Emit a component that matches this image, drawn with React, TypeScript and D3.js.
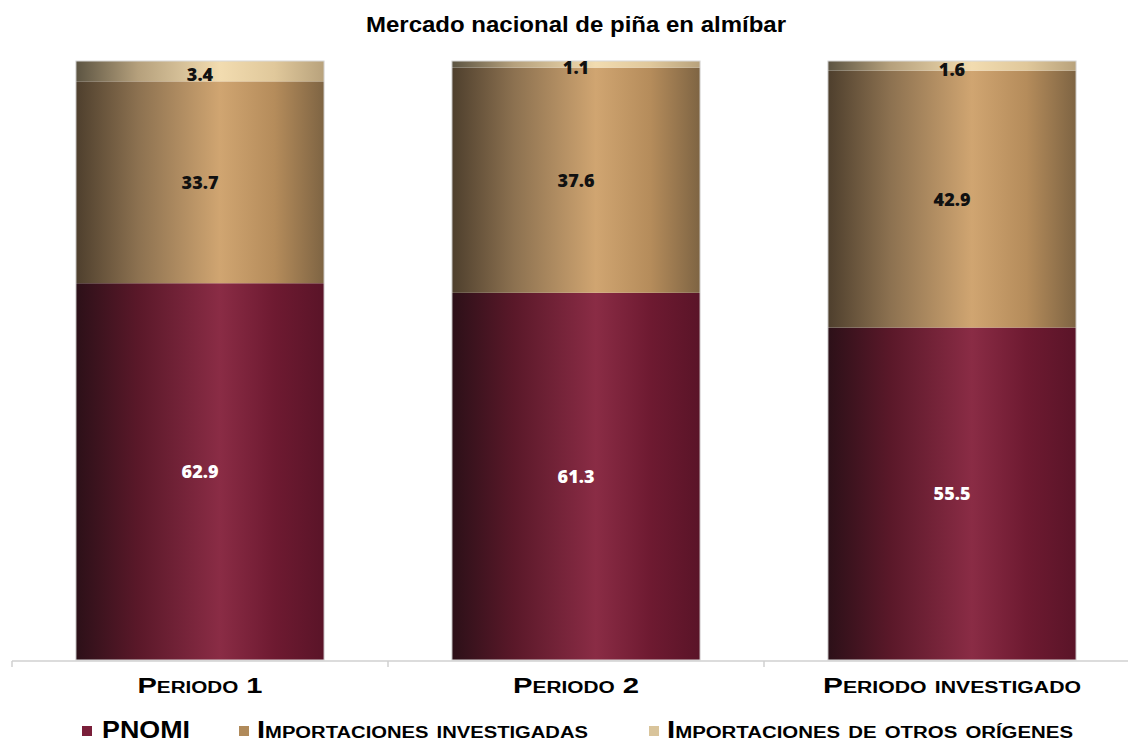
import React from "react";
import * as d3 from "d3";

const categories = ["Periodo 1", "Periodo 2", "Periodo investigado"];
const pnomi = [62.9, 61.3, 55.5];
const importInv = [33.7, 37.6, 42.9];
const importOtros = [3.4, 1.1, 1.6];
const seriesNames = ["PNOMI", "Importaciones investigadas", "Importaciones de otros orígenes"];

const W = 1128, H = 742;
const x0 = 12, x1 = 1140, yTop = 61, yBottom = 660;

const gradients = [
  { id: "gP", stops: ["#2c1018", "#5a1829", "#8a2c45", "#6e1a31", "#5a1428"], text: "#ffffff", legend: "#7a1f3a" },
  { id: "gI", stops: ["#4e3f2d", "#8c7150", "#d0a571", "#b58c5b", "#7e6443"], text: "#111111", legend: "#b08a5a" },
  { id: "gO", stops: ["#5c5442", "#b5a07c", "#f2dcb0", "#e0c89b", "#b8a27c"], text: "#111111", legend: "#d9c49b" },
];
const offsets = ["0%", "25%", "58%", "80%", "100%"];

export default function App() {
  const x = d3.scaleBand<string>().domain(categories).range([x0, x1]).paddingInner(0.34).paddingOuter(0.17);
  const y = d3.scaleLinear().domain([0, 100]).range([yBottom, yTop]);
  const data = categories.map((c, i) => ({ cat: c, v: [pnomi[i], importInv[i], importOtros[i]] }));
  const stack = data.map((d) => {
    let acc = 0;
    return d.v.map((v, k) => {
      const s = { k, y0: acc, y1: acc + v, v };
      acc += v;
      return s;
    });
  });
  const bandFull = (x1 - x0) / categories.length;
  const tickXs = d3.range(categories.length + 1).map((i) => x0 + i * bandFull);

  const legendItems = [
    { mx: 82, tx: 102, size: 24, len: 88 },
    { mx: 239, tx: 257, size: 23, len: 331 },
    { mx: 649, tx: 667, size: 23, len: 406 },
  ];
  const catLens = [125, 126, 258];

  return (
    <svg width={W} height={H} style={{ position: "absolute", left: 0, top: 0, background: "#fff" }}>
      <defs>
        {gradients.map((g) => (
          <linearGradient key={g.id} id={g.id} x1="0" x2="1" y1="0" y2="0">
            {g.stops.map((s, j) => (
              <stop key={j} offset={offsets[j]} stopColor={s} />
            ))}
          </linearGradient>
        ))}
      </defs>
      <text x={576} y={32} textAnchor="middle" fontFamily="'Liberation Sans', Arial, sans-serif" fontWeight="bold" fontSize={22.5} fill="#000" textLength={420} lengthAdjust="spacingAndGlyphs">
        Mercado nacional de piña en almíbar
      </text>
      {data.map((d, i) => (
        <g key={d.cat}>
          {stack[i].map((s) => (
            <rect
              key={s.k}
              x={x(d.cat)!}
              width={x.bandwidth()}
              y={y(s.y1)}
              height={y(s.y0) - y(s.y1)}
              fill={`url(#${gradients[s.k].id})`}
            />
          ))}
          <rect x={x(d.cat)!} width={x.bandwidth()} y={y(100)} height={y(0) - y(100)} fill="none" stroke="#d8d8d8" strokeWidth={1} />
          {stack[i].map((s) => {
            const h = y(s.y0) - y(s.y1);
            const cy = (y(s.y0) + y(s.y1)) / 2 + (h < 25 ? 3.5 : 0);
            return (
              <text
                key={"t" + s.k}
                x={x(d.cat)! + x.bandwidth() / 2}
                y={cy}
                dy="0.36em"
                textAnchor="middle"
                fontFamily="'Open Sans', sans-serif"
                fontWeight={800}
                fontSize={18}
                fill={gradients[s.k].text}
              >
                {s.v.toFixed(1)}
              </text>
            );
          })}
        </g>
      ))}
      <line x1={x0} x2={x1} y1={yBottom + 1} y2={yBottom + 1} stroke="#d0d0d0" strokeWidth={1.5} />
      {tickXs.map((tx, i) => (
        <line key={i} x1={tx} x2={tx} y1={yBottom + 1} y2={yBottom + 7} stroke="#d0d0d0" strokeWidth={1.5} />
      ))}
      {categories.map((c, i) => (
        <text
          key={c}
          x={x(c)! + x.bandwidth() / 2}
          y={693}
          textAnchor="middle"
          fontFamily="'Liberation Sans', Arial, sans-serif"
          fontWeight="bold"
          fontSize={22.5}
          style={{ fontVariant: "small-caps" }}
          fill="#000"
          textLength={catLens[i]}
          lengthAdjust="spacingAndGlyphs"
        >
          {c}
        </text>
      ))}
      {seriesNames.map((n, i) => (
        <g key={n}>
          <rect x={legendItems[i].mx} y={726} width={10} height={10} fill={gradients[i].legend} />
          <text
            x={legendItems[i].tx}
            y={738}
            fontFamily="'Liberation Sans', Arial, sans-serif"
            fontWeight="bold"
            fontSize={legendItems[i].size}
            style={{ fontVariant: "small-caps" }}
            fill="#000"
            textLength={legendItems[i].len}
            lengthAdjust="spacingAndGlyphs"
          >
            {n}
          </text>
        </g>
      ))}
    </svg>
  );
}
